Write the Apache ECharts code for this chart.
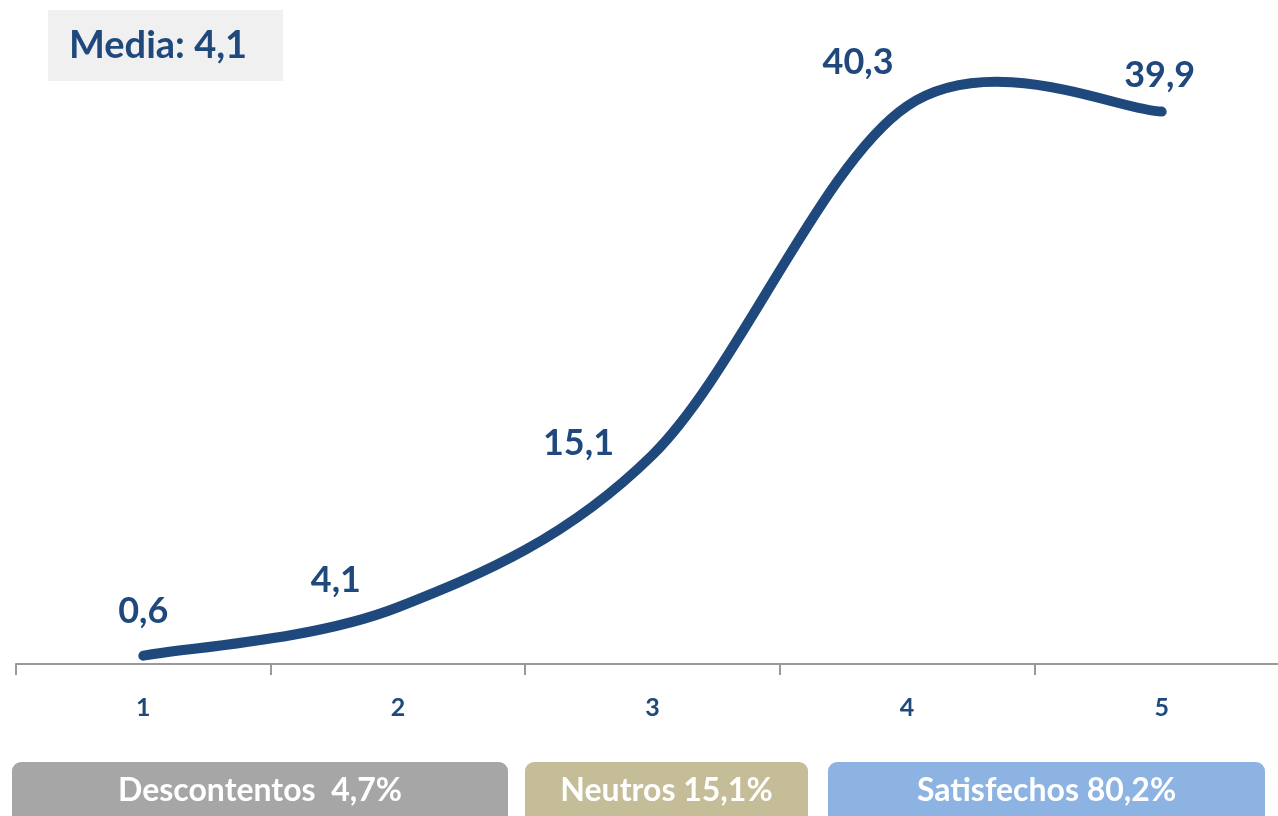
<!DOCTYPE html>
<html><head><meta charset="utf-8">
<script src="https://cdn.jsdelivr.net/npm/echarts@6/dist/echarts.min.js"></script>
<style>html,body{margin:0;padding:0;background:#fff;overflow:hidden;width:1278px;height:816px}#c{width:1289px;height:816px}</style>
</head><body><div id="c"></div>
<script>
const categories = ['1', '2', '3', '4', '5'];
const values = [0.6, 4.1, 15.1, 40.3, 39.9];
const valueLabels = ['0,6', '4,1', '15,1', '40,3', '39,9'];
const meanLabel = 'Media: 4,1';
const groupLabels = ['Descontentos  4,7%', 'Neutros 15,1%', 'Satisfechos 80,2%'];

const labelOffsets = [[0, -44], [-62, -27], [-74, -12], [-49, -44], [-2, -36]];
const groupBoxes = [[12, 496, '#A6A6A6'], [525, 283, '#C4BD97'], [828, 437, '#8DB3E2']];
const blue = '#1F497D';
const font = 'Lato, "Open Sans", sans-serif';

const chart = echarts.init(document.getElementById('c'), null, {renderer: 'canvas'});
const graphics = [
  {type: 'rect', left: 48, top: 10, shape: {width: 235, height: 71}, style: {fill: '#F0F0F0'}},
  {type: 'text', x: 69, y: 46, style: {text: meanLabel, fill: blue, font: 'bold 38px ' + font, verticalAlign: 'middle'}}
];
groupBoxes.forEach((b, i) => {
  graphics.push({type: 'rect', shape: {x: b[0], y: 762, width: b[1], height: 70, r: 9}, style: {fill: b[2]}});
  graphics.push({type: 'text', x: b[0] + b[1] / 2, y: 791, style: {text: groupLabels[i], fill: '#fff', font: 'bold 32px ' + font, align: 'center', verticalAlign: 'middle'}});
});

// Excel-like smoothed curve (Catmull-Rom Bezier) through the data points, via the axis scales
function renderCurve(params, api) {
  if (params.dataIndex !== 0) return null;
  const pts = values.map((v, i) => api.coord([i, v]));
  const n = pts.length;
  let d = 'M' + pts[0][0] + ' ' + pts[0][1];
  for (let i = 0; i < n - 1; i++) {
    const p0 = pts[Math.max(i - 1, 0)], p1 = pts[i], p2 = pts[i + 1], p3 = pts[Math.min(i + 2, n - 1)];
    const c1 = [p1[0] + (p2[0] - p0[0]) / 6, p1[1] + (p2[1] - p0[1]) / 6];
    const c2 = [p2[0] - (p3[0] - p1[0]) / 6, p2[1] - (p3[1] - p1[1]) / 6];
    d += ' C' + c1[0] + ' ' + c1[1] + ' ' + c2[0] + ' ' + c2[1] + ' ' + p2[0] + ' ' + p2[1];
  }
  return {type: 'path', shape: {pathData: d}, style: {fill: 'none', stroke: blue, lineWidth: 10, lineCap: 'round', lineJoin: 'round'}};
}

chart.setOption({
  animation: false,
  grid: {left: 16, right: 0, top: 41, bottom: 152},
  xAxis: {
    type: 'category', data: categories, boundaryGap: true,
    axisLine: {lineStyle: {color: '#999', width: 2}},
    axisTick: {show: true, length: 11, lineStyle: {color: '#999', width: 2}},
    axisLabel: {color: blue, fontSize: 25, fontWeight: 'bold', fontFamily: font, margin: 31}
  },
  yAxis: {type: 'value', min: 0, max: 45, show: false, splitLine: {show: false}},
  series: [{
    type: 'custom', clip: false, renderItem: renderCurve,
    data: values.map((v, i) => [i, v]), z: 2
  }, {
    type: 'line',
    data: values.map((v, i) => ({value: v, label: {offset: labelOffsets[i]}})),
    symbol: 'circle', symbolSize: 1, z: 1,
    itemStyle: {color: blue},
    lineStyle: {width: 0, opacity: 0},
    label: {
      show: true, position: 'inside', color: blue, fontSize: 36, fontWeight: 'bold', fontFamily: font,
      formatter: p => valueLabels[p.dataIndex]
    }
  }],
  graphic: graphics
});
</script></body></html>
